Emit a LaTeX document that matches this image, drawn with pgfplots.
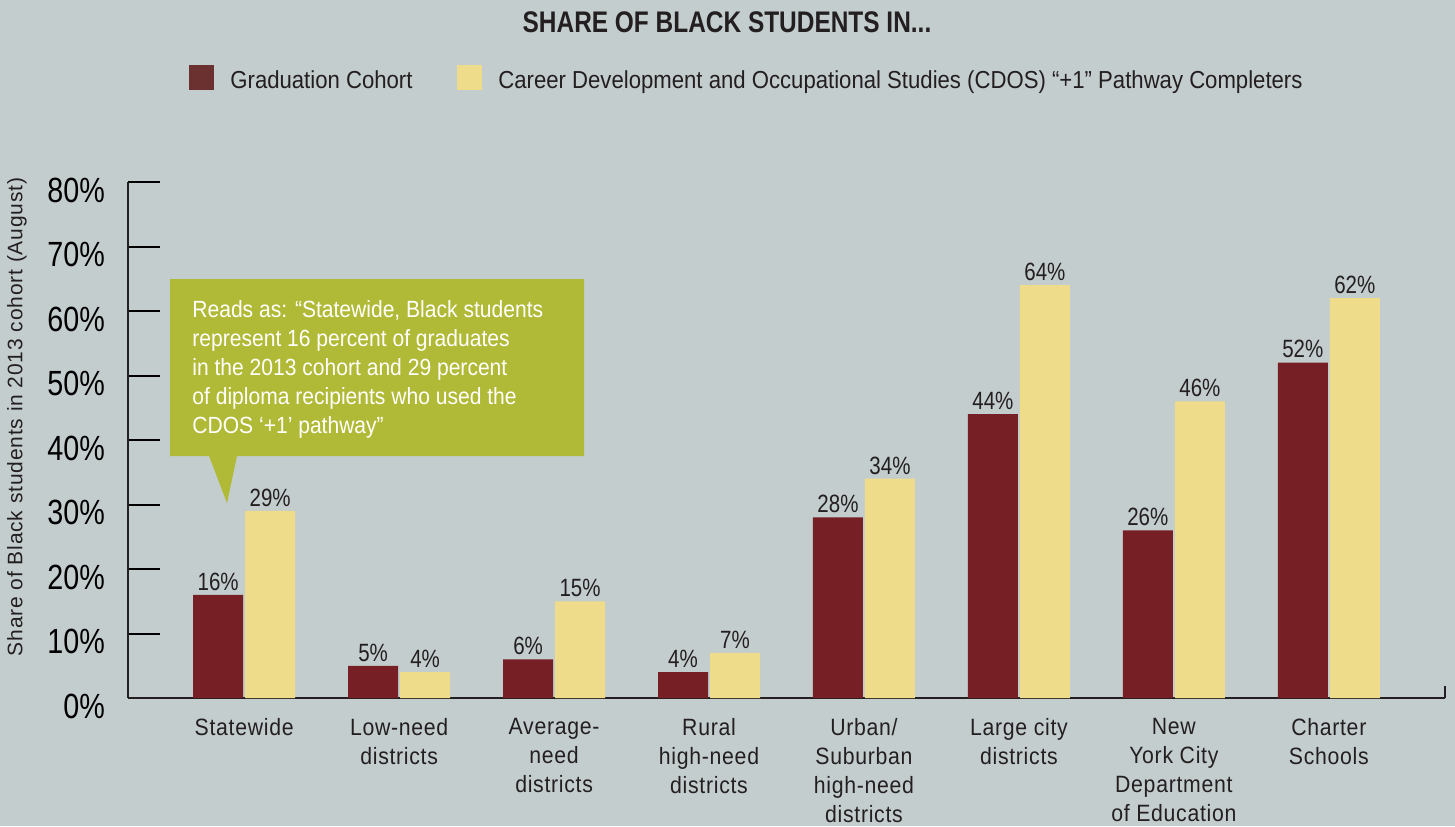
\documentclass[border=0pt]{standalone}
\usepackage{fontspec}
\usepackage{pgfplots}
\pgfplotsset{compat=1.18}
\setmainfont[FakeStretch=0.9]{Liberation Sans}
\newfontfamily\numfont[FakeStretch=0.82]{Liberation Sans}
\newfontfamily\titlefont[FakeStretch=0.82]{Liberation Sans}
\newfontfamily\legfont[FakeStretch=0.9]{Liberation Sans}
\newfontfamily\tickfont[FakeStretch=0.9,LetterSpace=3]{Liberation Sans}
\newfontfamily\labfont[LetterSpace=4]{Liberation Sans}

\definecolor{bgc}{HTML}{C4CDCE}
\definecolor{cohort}{HTML}{762026}
\definecolor{cdos}{HTML}{EFDC8A}
\definecolor{legdark}{HTML}{6B3030}
\definecolor{callout}{HTML}{B1BA36}
\definecolor{txt}{HTML}{231F20}

\begin{document}
\begin{tikzpicture}
% canvas in pixel units (1px = 0.5pt, y down)
\begin{scope}[x=0.5pt,y=-0.5pt]
  \useasboundingbox (0,0) rectangle (1455,826);
  \fill[bgc] (0,0) rectangle (1455,826);
\end{scope}

\begin{axis}[
    at={(64pt,-349pt)}, anchor=south west,
    scale only axis, width=658.5pt, height=258pt,
    ybar=1pt, bar width=25pt,
    xmin=-0.75, xmax=7.75, ymin=0, ymax=80,
    axis x line=bottom, axis y line=left,
    axis line style={-, line width=1.2pt, txt},
    xtick=data,
    xticklabels={Statewide, Low-need\\districts, Average-\\need\\districts,
      Rural\\high-need\\districts, Urban/\\Suburban\\high-need\\districts,
      Large city\\districts, New\\York City\\Department\\of Education,
      Charter\\Schools},
    x tick style={draw=none},
    xticklabel style={align=center, text=txt, inner sep=0pt, yshift=-10pt,
      font=\tickfont\fontsize{11.8}{14.5}\selectfont},
    ytick={0,10,...,80},
    yticklabel={\pgfmathprintnumber{\tick}\%},
    /pgf/number format/assume math mode=true,
    tick align=inside, major tick length=16pt,
    y tick style={line width=1pt, black},
    yticklabel style={font=\numfont\fontsize{17.5}{19}\selectfont, text=black,
      xshift=-8pt, yshift=-4pt},
    nodes near coords={\pgfmathprintnumber\pgfplotspointmeta\%},
    nodes near coords style={font=\numfont\fontsize{12.5}{14}\selectfont,
      text=txt, inner sep=2pt, anchor=south},
    clip=false,
  ]
\addplot[fill=cohort, draw=none] coordinates {
  (0,16) (1,5) (2,6) (3,4) (4,28) (5,44) (6,26) (7,52)};
\addplot[fill=cdos, draw=none] coordinates {
  (0,29) (1,4) (2,15) (3,7) (4,34) (5,64) (6,46) (7,62)};
\draw[line width=1pt, txt] (axis cs:7.75,0) -- ++(0pt,6pt);
\end{axis}

\begin{scope}[x=0.5pt,y=-0.5pt]
  % title
  \node[anchor=base, text=txt, font=\titlefont\bfseries\fontsize{14.9}{16}\selectfont,
    inner sep=0pt] at (727,32) {SHARE OF BLACK STUDENTS IN...};
  % legend
  \fill[legdark] (189,65) rectangle (214,90);
  \node[anchor=base west, inner sep=0pt, text=txt,
    font=\legfont\fontsize{12.3}{14}\selectfont] at (230,88) {Graduation Cohort};
  \fill[cdos] (457,65) rectangle (482,90);
  \node[anchor=base west, inner sep=0pt, text=txt,
    font=\legfont\fontsize{12.3}{14}\selectfont] at (498,88)
    {Career Development and Occupational Studies (CDOS) “+1” Pathway Completers};
  % y label
  \node[rotate=90, inner sep=0pt, text=txt,
    font=\labfont\fontsize{10.5}{12}\selectfont] at (17,417)
    {Share of Black students in 2013 cohort (August)};
  % callout
  \fill[callout] (170,279) -- (584,279) -- (584,456) -- (237,456)
    -- (227,503) -- (209,456) -- (170,456) -- cycle;
  \node[anchor=base west, inner sep=0pt, text=white, align=left,
    font=\fontsize{11.7}{14.5}\selectfont] at (192,433)
    {Reads as: “Statewide, Black students\\represent 16 percent of graduates\\
     in the 2013 cohort and 29 percent\\of diploma recipients who used the\\
     CDOS ‘+1’ pathway”};
\end{scope}
\end{tikzpicture}
\end{document}
